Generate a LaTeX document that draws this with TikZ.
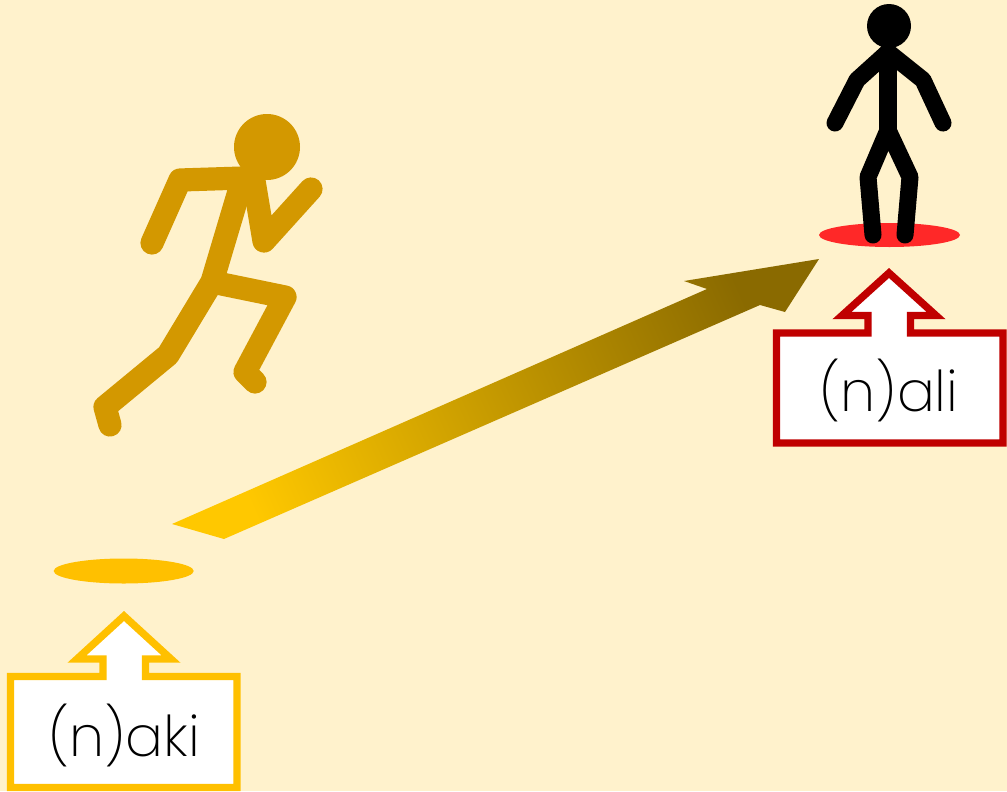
\documentclass[tikz,border=0pt]{standalone}
\usepackage{fontspec}
\newfontfamily\labelfont{Poppins}[UprightFont=* ExtraLight]
\definecolor{bgcream}{RGB}{255,242,204}
\definecolor{runnercol}{RGB}{211,152,0}
\definecolor{boxyellow}{RGB}{255,192,0}
\definecolor{boxred}{RGB}{192,0,0}
\definecolor{spotred}{RGB}{255,40,40}
\definecolor{arrowlight}{RGB}{255,200,0}
\definecolor{arrowdark}{RGB}{138,106,0}
\tikzset{
  runner/.style={draw=runnercol, line width=13.2pt, line cap=round, line join=round},
  stick/.style={draw=black, line width=9.7pt, line cap=round, line join=round},
  callout/.style={line width=4.2pt, fill=white, line join=miter},
  tag/.style={font=\labelfont\fontsize{32}{38}\selectfont, inner sep=0pt}
}
\begin{document}
\begin{tikzpicture}[x=0.02cm, y=-0.02cm]
\fill[bgcream] (0,0) rectangle (1007,791);
\useasboundingbox (0,0) rectangle (1007,791);
% running man
\fill[runnercol] (267,147) circle [radius=33];
\draw[runner] (152,243) -- (180,180) -- (243,178) -- (212,282) -- (168,355) -- (105,407) -- (110,425);
\draw[runner] (254,181) -- (264,241) -- (311,189);
\draw[runner] (212,282) -- (285,297) -- (245,372) -- (255,382);
% standing man
\fill[spotred] (889.5,235) ellipse [x radius=70.5, y radius=12];
\fill (889,26) circle [radius=22];
\draw[stick] (835,123) -- (857,80) -- (888,52) -- (923,80) -- (943,123);
\draw[stick] (888,52) -- (888,130);
\draw[stick] (873,235) -- (868,177) -- (888,130) -- (910,177) -- (905,235);
% start spot
\fill[boxyellow] (123.7,571) ellipse [x radius=70, y radius=12.5];
% big arrow
\shade[top color=arrowdark, bottom color=arrowlight, shading angle=-66.3]
  (172,524) -- (707,289) -- (684,281) -- (819,259) -- (785,312) -- (760,305) -- (224,539) -- cycle;
% callouts
\draw[callout, draw=boxyellow] (10.5,676.5) -- (103,676.5) -- (103,659) -- (77,659) -- (124,616)
  -- (171,659) -- (145.5,659) -- (145.5,676.5) -- (237,676.5) -- (237,787.5) -- (10.5,787.5) -- cycle;
\node[tag] (naki) at (124,735) {(n)aki};
\draw[callout, draw=boxred] (776.5,333) -- (868,333) -- (868,315.5) -- (842,315.5) -- (889,273)
  -- (936,315.5) -- (910.5,315.5) -- (910.5,333) -- (1003,333) -- (1003,443) -- (776.5,443) -- cycle;
\node[tag] (nali) at (889,390) {(n)ali};
\end{tikzpicture}
\end{document}
